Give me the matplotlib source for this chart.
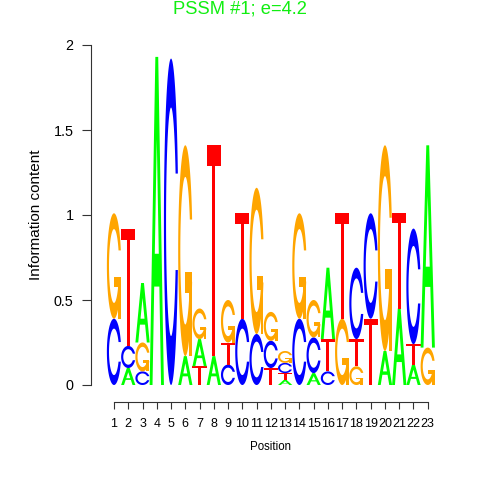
import matplotlib
matplotlib.use("Agg")
import matplotlib.pyplot as plt
from matplotlib.patches import Polygon
import numpy as np

plt.rcParams["font.family"] = ["Liberation Sans", "DejaVu Sans"]

# information content per letter and position (bits)
positions = list(range(1, 24))
A = [0.00, 0.10, 0.35, 1.93, 0.00, 0.17, 0.16, 0.17, 0.00, 0.00, 0.00, 0.00,
     0.03, 0.00, 0.07, 0.42, 0.00, 0.00, 0.00, 0.20, 0.45, 0.12, 1.19]
C = [0.39, 0.13, 0.08, 0.00, 1.92, 0.00, 0.00, 0.00, 0.12, 0.39, 0.30, 0.16,
     0.06, 0.39, 0.21, 0.08, 0.00, 0.42, 0.62, 0.00, 0.00, 0.68, 0.00]
G = [0.62, 0.00, 0.17, 0.00, 0.00, 1.24, 0.18, 0.00, 0.25, 0.00, 0.86, 0.17,
     0.07, 0.62, 0.22, 0.00, 0.39, 0.11, 0.00, 1.21, 0.00, 0.00, 0.22]
T = [0.00, 0.69, 0.00, 0.00, 0.00, 0.00, 0.11, 1.24, 0.13, 0.62, 0.00, 0.10,
     0.04, 0.00, 0.00, 0.19, 0.62, 0.16, 0.39, 0.00, 0.56, 0.12, 0.00]

COLORS = {"A": "#00FF00", "C": "#0000FF", "G": "#FFA500", "T": "#FF0000"}


# letter outlines in a unit box, same shapes as the R seqLogo package
def ring_outline():
    a1 = np.linspace(0.3 + np.pi / 2, np.pi, 100)
    a2 = np.linspace(np.pi, 1.5 * np.pi, 100)
    xl = np.concatenate([0.5 + 0.5 * np.sin(a1), 0.5 + 0.5 * np.sin(a2)])
    yl = np.concatenate([0.5 + 0.5 * np.cos(a1), 0.5 + 0.5 * np.cos(a2)])
    x = np.concatenate([xl, xl[::-1]])
    y = np.concatenate([yl, 1 - yl[::-1]])
    top = (0.5 + 0.5 * np.cos(a1)).max()
    xi1 = 0.5 + 0.35 * np.sin(a1)
    yi1 = 0.5 + 0.35 * np.cos(a1)
    keep = yi1 <= top
    xi1, yi1 = xi1[keep], yi1[keep]
    yi1[0] = top
    xi = np.concatenate([xi1, 0.5 + 0.35 * np.sin(a2)])
    yi = np.concatenate([yi1, 0.5 + 0.35 * np.cos(a2)])
    x1 = np.concatenate([xi, xi[::-1]])
    y1 = np.concatenate([yi, 1 - yi[::-1]])
    return np.concatenate([x, x1[::-1]]), np.concatenate([y, y1[::-1]]), (0.5 + 0.5 * np.sin(a1)).max()


def letter_shapes(ch):
    if ch == "A":
        return [(np.array([0, 4, 6, 10, 8, 6.8, 3.2, 2, 0]) / 10,
                 np.array([0, 10, 10, 0, 0, 3, 3, 0, 0]) / 10, COLORS["A"]),
                (np.array([3.6, 5, 6.4, 3.6]) / 10,
                 np.array([4, 7.5, 4, 4]) / 10, "white")]
    if ch == "T":
        return [(np.array([0, 10, 10, 6, 6, 4, 4, 0]) / 10,
                 np.array([10, 10, 9, 9, 0, 0, 9, 9]) / 10, COLORS["T"])]
    x, y, r1 = ring_outline()
    shapes = [(x, y, COLORS[ch])]
    if ch == "G":
        h1 = 0.4
        shapes.append((np.array([r1, 0.5, 0.5, r1 - 0.2, r1 - 0.2, r1, r1]),
                       np.array([h1, h1, h1 - 0.1, h1 - 0.1, 0, 0, h1]), COLORS["G"]))
    return shapes


def draw_letter(ax, ch, x0, y0, w, h):
    for xs, ys, col in letter_shapes(ch):
        pts = np.column_stack([x0 + w * xs, y0 + h * ys])
        ax.add_patch(Polygon(pts, closed=True, facecolor=col, edgecolor="none"))


fig = plt.figure(figsize=(4.8, 4.8), dpi=100)
# pixel-based placement: y axis line at x=91, y=0 at 385, y=2 at 45
ax = fig.add_axes([91 / 480, 95 / 480, 357 / 480, 340 / 480])
ax.set_xlim(-0.613, 24.42)
ax.set_ylim(0, 2)

for i, pos in enumerate(positions):
    hts = {"A": A[i], "C": C[i], "G": G[i], "T": T[i]}
    y0 = 0.0
    for ch in sorted(hts, key=lambda k: hts[k]):
        if hts[ch] > 0:
            draw_letter(ax, ch, pos - 0.5, y0, 1.0, hts[ch])
            y0 += hts[ch]

for s in ["top", "right"]:
    ax.spines[s].set_visible(False)
ax.spines["bottom"].set_position(("outward", 12.2))
ax.spines["bottom"].set_bounds(1, 23)
ax.spines["left"].set_bounds(0, 2)
for s in ["bottom", "left"]:
    ax.spines[s].set_linewidth(0.8)
    ax.spines[s].set_color("#333333")

ax.set_xticks(positions)
ax.set_xticklabels([str(p) for p in positions])
ax.set_yticks([0, 0.5, 1, 1.5, 2])
ax.set_yticklabels(["0", "0.5", "1", "1.5", "2"])
ax.tick_params(axis="x", length=4.8, width=0.8, color="#333333", pad=6.5, labelsize=9)
ax.tick_params(axis="y", length=6.5, width=0.8, color="#333333", pad=6, labelsize=10.4)

ax.set_xlabel("Position", fontsize=8.3)
ax.xaxis.set_label_coords(0.504, -0.165)
ax.set_ylabel("Information content", fontsize=11)
ax.yaxis.set_label_coords(-0.134, 0.5)

fig.text(0.499, 0.981, "PSSM #1; e=4.2", color="#11EE11", fontsize=13.2,
         ha="center", va="center")

fig.savefig("out.png", dpi=100)
